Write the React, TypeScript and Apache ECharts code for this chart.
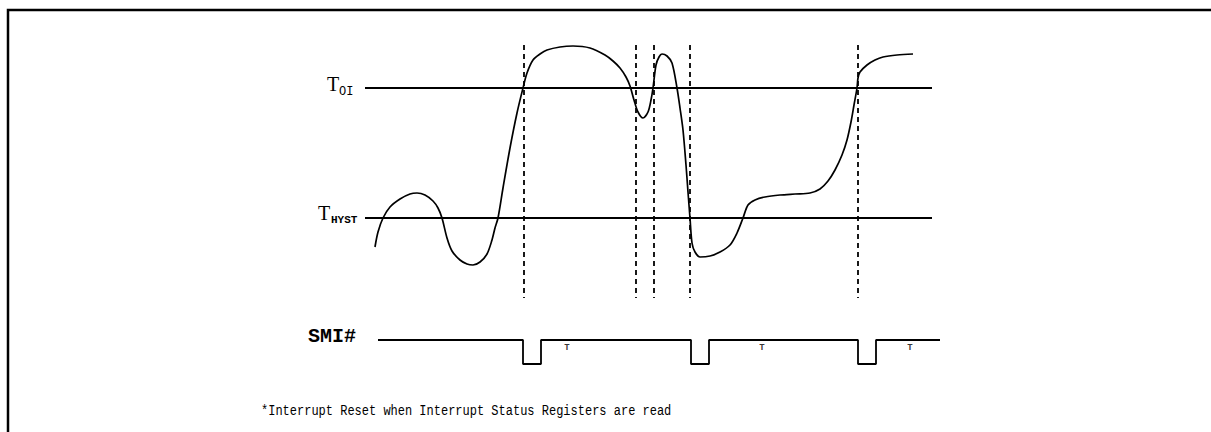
import React, { useEffect, useRef } from "react";
import * as echarts from "echarts";

// Temperature trace (time, level) — level axis is inverted (smaller = hotter)
const tempTrace: [number, number][] = [
  [375, 247], [378, 232], [383, 218], [390, 207], [400, 199], [410, 194], [417, 193],
  [425, 195], [433, 201], [438, 208], [442, 218], [447, 238], [452, 251], [460, 260],
  [467, 264], [473, 265], [480, 262], [487, 254], [492, 240], [495, 228], [498, 218],
  [503, 188], [510, 148], [517, 113], [523, 88], [527, 73], [533, 60], [540, 54],
  [547, 50], [560, 47], [573, 46], [590, 48], [605, 55], [613, 61], [620, 68],
  [626, 77], [630, 86], [634, 100], [638, 112], [643, 118], [648, 112], [651, 100],
  [653, 88], [656, 65], [659, 57], [662, 54], [667, 56], [672, 63], [677, 88],
  [680, 108], [683, 130], [686, 165], [688, 192], [690, 218], [692, 243], [695, 252],
  [700, 257], [710, 256], [720, 252], [730, 245], [737, 233], [743, 218], [748, 205],
  [755, 200], [765, 197], [780, 195], [795, 194], [810, 193], [820, 189], [828, 181],
  [835, 170], [842, 155], [847, 140], [851, 122], [854, 105], [857, 88], [858, 78],
  [860, 72], [867, 65], [875, 60], [883, 57], [897, 55], [913, 54],
];

// Threshold levels
const T_OI_LEVEL = 88;
const T_HYST_LEVEL = 218;
const thresholdSpan: [number, number] = [365, 932];

// Event times (dashed markers) and marker extent
const eventTimes = [524, 636, 654, 690, 858];
const eventSpan: [number, number] = [45, 298];

// SMI# signal
const smiHigh = 340;
const smiLow = 364;
const smiSpan: [number, number] = [378, 940];
const smiPulseStarts = [523, 691, 858];
const smiPulseWidth = 18;
const resetMarks: [number, number][] = [[567, 348], [762, 348], [910, 348]];

const LINE = "#000";

function buildSmi(): [number, number][] {
  const pts: [number, number][] = [[smiSpan[0], smiHigh]];
  smiPulseStarts.forEach((s) => {
    pts.push([s, smiHigh], [s, smiLow], [s + smiPulseWidth, smiLow], [s + smiPulseWidth, smiHigh]);
  });
  pts.push([smiSpan[1], smiHigh]);
  return pts;
}

export default function App() {
  const ref = useRef<HTMLDivElement>(null);
  useEffect(() => {
    if (!ref.current) return;
    const chart = echarts.init(ref.current, null, { renderer: "svg" });
    const series: any[] = [
      {
        type: "line",
        data: [[thresholdSpan[0], T_OI_LEVEL], [thresholdSpan[1], T_OI_LEVEL]],
        symbol: "none",
        lineStyle: { color: LINE, width: 1.8 },
        silent: true,
      },
      {
        type: "line",
        data: [[thresholdSpan[0], T_HYST_LEVEL], [thresholdSpan[1], T_HYST_LEVEL]],
        symbol: "none",
        lineStyle: { color: LINE, width: 1.8 },
        silent: true,
      },
      ...eventTimes.map((t) => ({
        type: "line",
        data: [[t, eventSpan[0]], [t, eventSpan[1]]],
        symbol: "none",
        lineStyle: { color: LINE, width: 1.8, type: [5, 4] },
        silent: true,
      })),
      {
        type: "line",
        data: tempTrace,
        symbol: "none",
        smooth: 0.3,
        lineStyle: { color: LINE, width: 1.7 },
        silent: true,
      },
      {
        type: "line",
        data: buildSmi(),
        symbol: "none",
        lineStyle: { color: LINE, width: 1.8 },
        silent: true,
      },
      {
        type: "scatter",
        data: resetMarks,
        symbolSize: 0,
        silent: true,
        label: {
          show: true,
          position: "inside",
          formatter: "T",
          fontFamily: "Liberation Mono",
          fontWeight: "bold",
          fontSize: 9,
          color: LINE,
        },
      },
    ];
    chart.setOption({
      animation: false,
      backgroundColor: "#fff",
      grid: { left: 0, right: 0, top: 0, bottom: 0 },
      xAxis: { type: "value", min: 0, max: 1211, show: false },
      yAxis: { type: "value", min: 0, max: 432, inverse: true, show: false },
      series,
      graphic: [
        {
          type: "polyline",
          shape: { points: [[8, 440], [8, 10], [1220, 10]] },
          style: { stroke: "#000", lineWidth: 2.5, fill: null },
        },
        {
          type: "text",
          x: 327,
          y: 84,
          style: { text: "T", font: "20px 'Liberation Serif'", fill: LINE, verticalAlign: "middle" },
        },
        {
          type: "text",
          x: 339,
          y: 92,
          style: { text: "OI", font: "12px 'Liberation Mono'", fill: LINE, verticalAlign: "middle" },
        },
        {
          type: "text",
          x: 318,
          y: 213,
          style: { text: "T", font: "20px 'Liberation Serif'", fill: LINE, verticalAlign: "middle" },
        },
        {
          type: "text",
          x: 331,
          y: 220,
          style: { text: "HYST", font: "bold 11px 'Liberation Mono'", fill: LINE, verticalAlign: "middle" },
        },
        {
          type: "text",
          x: 308,
          y: 336,
          style: { text: "SMI#", font: "bold 20px 'Liberation Mono'", fill: LINE, verticalAlign: "middle" },
        },
        {
          type: "text",
          x: 261,
          y: 411,
          scaleY: 1.25,
          style: {
            text: "*Interrupt Reset when Interrupt Status Registers are read",
            font: "12px 'Liberation Mono'",
            fill: LINE,
            verticalAlign: "middle",
          },
        },
      ],
    });
    return () => chart.dispose();
  }, []);
  return (
    <div
      ref={ref}
      style={{ position: "fixed", left: 0, top: 0, width: 1211, height: 432, background: "#fff" }}
    />
  );
}
